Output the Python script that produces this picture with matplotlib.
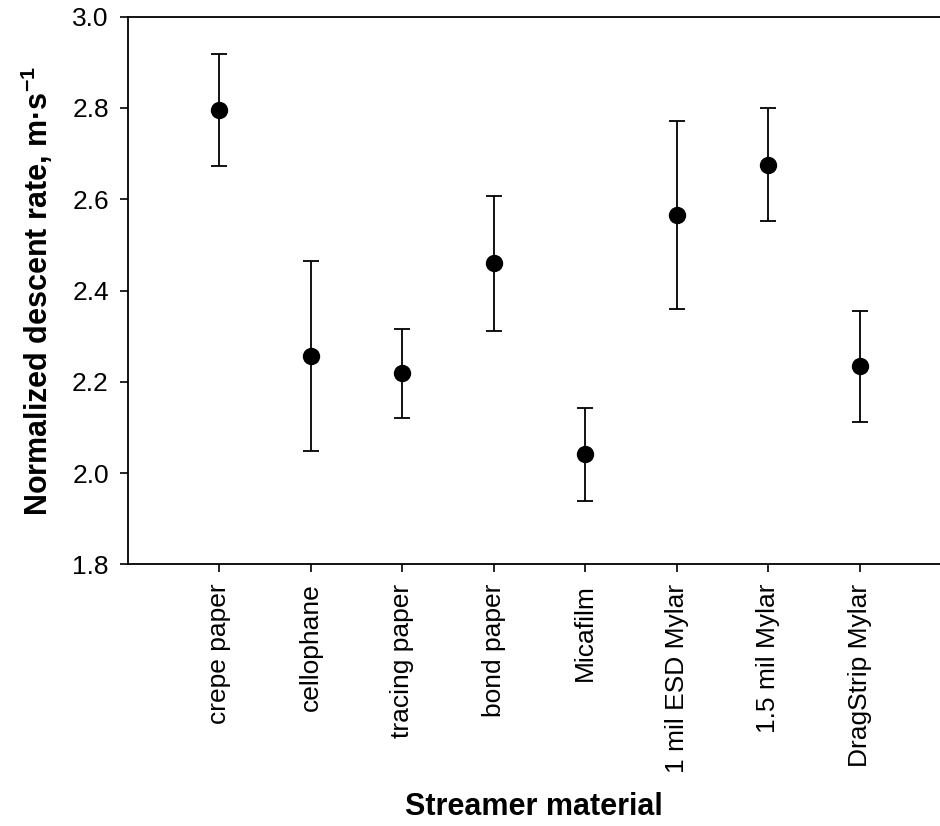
import matplotlib
matplotlib.use("Agg")
import matplotlib.pyplot as plt

# streamer descent rates (mean, upper bar, lower bar)
materials = ["crepe paper", "cellophane", "tracing paper", "bond paper",
             "Micafilm", "1 mil ESD Mylar", "1.5 mil Mylar", "DragStrip Mylar"]
rate_mean = [2.796, 2.257, 2.219, 2.460, 2.042, 2.566, 2.676, 2.235]
rate_upper = [2.919, 2.464, 2.316, 2.608, 2.143, 2.772, 2.799, 2.355]
rate_lower = [2.673, 2.048, 2.121, 2.312, 1.939, 2.360, 2.553, 2.113]
yticks = [1.8, 2.0, 2.2, 2.4, 2.6, 2.8, 3.0]

plt.rcParams["font.family"] = ["Liberation Sans", "DejaVu Sans"]
plt.rcParams["mathtext.fontset"] = "custom"
plt.rcParams["mathtext.rm"] = "Liberation Sans:bold"
plt.rcParams["mathtext.bf"] = "Liberation Sans:bold"
plt.rcParams["mathtext.it"] = "Liberation Sans:bold"

fig = plt.figure(figsize=(9.4, 8.26), dpi=100)
ax = fig.add_axes([0.1362, 0.3166, 0.8638, 0.6632])

xpos = list(range(1, len(materials) + 1))
err_hi = [u - m for u, m in zip(rate_upper, rate_mean)]
err_lo = [m - l for m, l in zip(rate_mean, rate_lower)]
ax.errorbar(xpos, rate_mean, yerr=[err_lo, err_hi], fmt="o", color="black",
            markersize=11.5, elinewidth=1.3, capsize=6.1, capthick=1.3)

ax.set_xlim(0, 8.88)
ax.set_ylim(1.8, 3.0)
ax.set_yticks(yticks)
ax.set_yticklabels([f"{t:.1f}" for t in yticks])
ax.set_xticks(xpos)
ax.set_xticklabels(materials, rotation=90)

ax.spines["right"].set_visible(False)
for s in ("left", "top", "bottom"):
    ax.spines[s].set_linewidth(1.3)
ax.tick_params(axis="both", direction="out", length=5.8, width=1.2, labelsize=19)
ax.tick_params(axis="x", pad=8)
ax.tick_params(axis="y", pad=8)

ax.set_xlabel("Streamer material", fontsize=22, fontweight="bold", labelpad=14)
ax.set_ylabel("Normalized descent rate, m\u00b7s$^{-1}$", fontsize=22,
              fontweight="bold", labelpad=12)

fig.savefig("out.png", dpi=100)
